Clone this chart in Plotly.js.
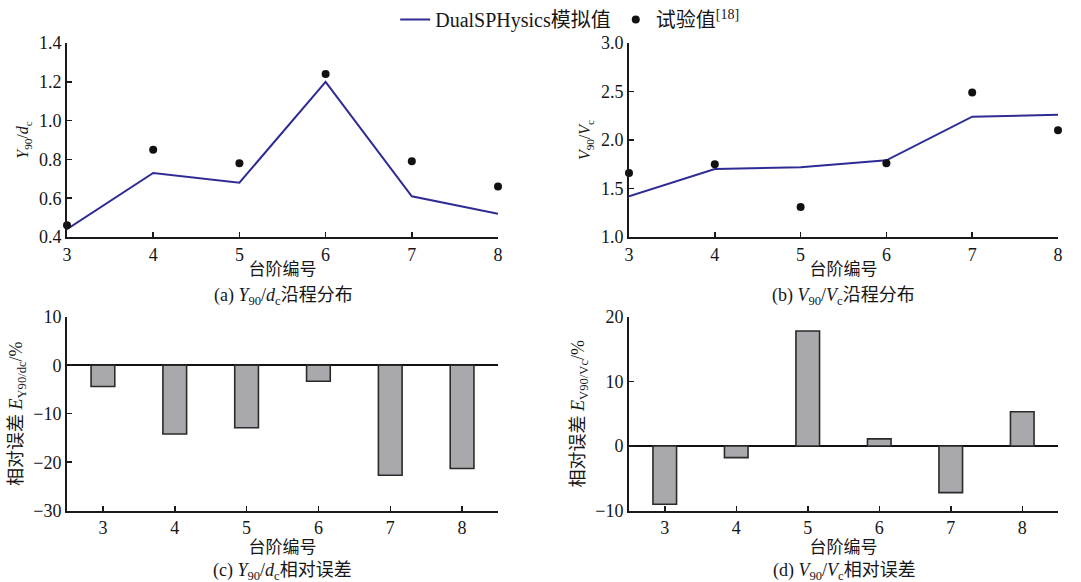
<!DOCTYPE html>
<html>
<head>
<meta charset="utf-8">
<script src="https://cdn.plot.ly/plotly-3.0.1.min.js"></script>
<style>html,body{margin:0;padding:0;background:#fff;}#chart{width:1081px;height:582px;}</style>
</head>
<body>
<div id="chart"></div>
<script>
// Data
const steps = [3, 4, 5, 6, 7, 8];
const simY90dc = [0.44, 0.73, 0.68, 1.20, 0.61, 0.52];
const expY90dc = [0.46, 0.85, 0.78, 1.24, 0.79, 0.66];
const simV90Vc = [1.42, 1.70, 1.72, 1.79, 2.24, 2.26];
const expV90Vc = [1.66, 1.75, 1.31, 1.76, 2.49, 2.10];
const errY90dc = [-4.4, -14.2, -12.9, -3.3, -22.7, -21.3];
const errV90Vc = [-9.0, -1.8, 17.8, 1.1, -7.2, 5.3];
const tickLabels = ['3', '4', '5', '6', '7', '8'];

const W = 1081, H = 582;
const px = (a, b) => [a / W, b / W];
const py = (top, bottom) => [1 - bottom / H, 1 - top / H];

const serif = "'Liberation Serif', 'DejaVu Serif', serif";
const cjk = "'Liberation Serif', 'Noto Sans CJK SC', serif";
const lineColor = '#2e2c94';
const axisColor = '#1a1a1a';
const txt = '#161616';

const traces = [
  {x: steps, y: simY90dc, type: 'scatter', mode: 'lines', name: 'DualSPHysics模拟值',
   line: {color: lineColor, width: 2}, xaxis: 'x', yaxis: 'y', cliponaxis: false},
  {x: steps, y: expY90dc, type: 'scatter', mode: 'markers', name: '试验值<sup>[18]</sup>',
   marker: {color: '#111', size: 8}, xaxis: 'x', yaxis: 'y', cliponaxis: false},
  {x: steps, y: simV90Vc, type: 'scatter', mode: 'lines', showlegend: false,
   line: {color: lineColor, width: 2}, xaxis: 'x2', yaxis: 'y2', cliponaxis: false},
  {x: steps, y: expV90Vc, type: 'scatter', mode: 'markers', showlegend: false,
   marker: {color: '#111', size: 8}, xaxis: 'x2', yaxis: 'y2', cliponaxis: false},
  {x: steps, y: errY90dc, type: 'bar', showlegend: false, width: 0.33,
   marker: {color: '#a9a9ad', line: {color: '#2a2a2a', width: 1.6}}, xaxis: 'x3', yaxis: 'y3'},
  {x: steps, y: errV90Vc, type: 'bar', showlegend: false, width: 0.33,
   marker: {color: '#a9a9ad', line: {color: '#2a2a2a', width: 1.6}}, xaxis: 'x4', yaxis: 'y4'}
];

function xax(domain, range, anchor) {
  return {
    domain: domain, range: range, anchor: anchor,
    tickmode: 'array', tickvals: steps, ticktext: tickLabels,
    showline: true, linecolor: axisColor, linewidth: 2,
    ticks: 'inside', ticklen: 5, tickwidth: 1.5, tickcolor: axisColor,
    showgrid: false, zeroline: false,
    tickfont: {family: serif, size: 18, color: txt},
    title: {text: '台阶编号', font: {family: cjk, size: 17, color: txt}, standoff: 0}
  };
}
function yax(domain, range, dtick, anchor, title, zl, tsize) {
  return {
    domain: domain, range: range, anchor: anchor, dtick: dtick,
    showline: true, linecolor: axisColor, linewidth: 2,
    ticks: 'inside', ticklen: 5, tickwidth: 1.5, tickcolor: axisColor,
    showgrid: false, zeroline: !!zl, zerolinecolor: '#111', zerolinewidth: 1.5,
    tickfont: {family: serif, size: 18, color: txt},
    tickformat: zl ? 'd' : '.1f',
    title: {text: title, font: {family: cjk, size: tsize, color: txt}, standoff: 6}
  };
}

const layout = {
  width: W, height: H,
  margin: {l: 0, r: 0, t: 0, b: 0},
  paper_bgcolor: '#fff', plot_bgcolor: '#fff',
  showlegend: true,
  legend: {orientation: 'h', x: 0.527, xanchor: 'center', y: 1.0, yanchor: 'top',
    font: {family: cjk, size: 20, color: txt}, bgcolor: 'rgba(0,0,0,0)', itemwidth: 30,
    tracegroupgap: 0},
  xaxis: xax(px(67, 498), [3, 8], 'y'),
  yaxis: yax(py(43, 237), [0.4, 1.4], 0.2, 'x', '<i>Y</i><sub>90</sub>/<i>d</i><sub>c</sub>', false, 16),
  xaxis2: xax(px(629, 1058), [3, 8], 'y2'),
  yaxis2: yax(py(43, 237), [1.0, 3.0], 0.5, 'x2', '<i>V</i><sub>90</sub>/<i>V</i><sub>c</sub>', false, 16),
  xaxis3: xax(px(67, 498), [2.5, 8.5], 'y3'),
  yaxis3: yax(py(316.7, 510.7), [-30, 10], 10, 'x3', '相对误差 <i>E</i><sub>Y90/dc</sub>/%', true, 18),
  xaxis4: xax(px(629, 1058), [2.5, 8.5], 'y4'),
  yaxis4: yax(py(316.7, 510.7), [-10, 20], 10, 'x4', '相对误差 <i>E</i><sub>V90/Vc</sub>/%', true, 18),
  annotations: [
    {text: '(a) <i>Y</i><sub>90</sub>/<i>d</i><sub>c</sub>沿程分布', x: 283 / W, y: 1 - 296 / H},
    {text: '(b) <i>V</i><sub>90</sub>/<i>V</i><sub>c</sub>沿程分布', x: 843 / W, y: 1 - 296 / H},
    {text: '(c) <i>Y</i><sub>90</sub>/<i>d</i><sub>c</sub>相对误差', x: 282 / W, y: 1 - 571 / H},
    {text: '(d) <i>V</i><sub>90</sub>/<i>V</i><sub>c</sub>相对误差', x: 844 / W, y: 1 - 571 / H}
  ].map(a => Object.assign({xref: 'paper', yref: 'paper', showarrow: false,
    xanchor: 'center', yanchor: 'middle', font: {family: cjk, size: 18, color: txt}}, a))
};

Plotly.newPlot('chart', traces, layout, {displayModeBar: false, staticPlot: true});
</script>
</body>
</html>
